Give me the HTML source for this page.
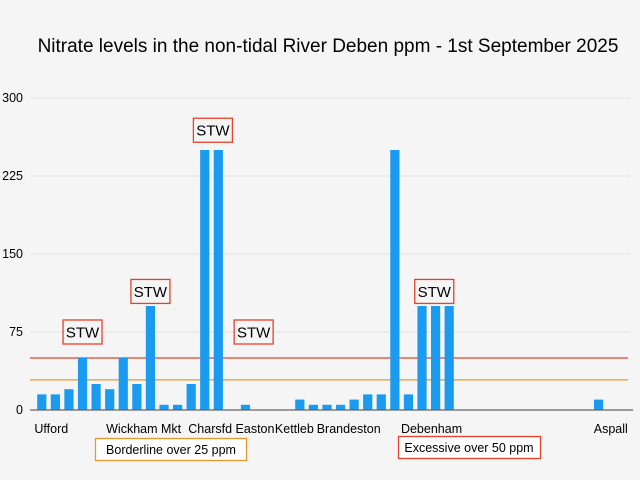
<!DOCTYPE html>
<html><head><meta charset="utf-8"><style>
body{margin:0;background:#f5f5f5;}
svg{display:block;font-family:"Liberation Sans",sans-serif;}
</style></head><body>
<svg id="chart" width="640" height="480" viewBox="0 0 640 480">
<rect width="640" height="480" fill="#f5f5f5"/>
<text x="328" y="52" text-anchor="middle" font-size="19" fill="#000">Nitrate levels in the non-tidal River Deben ppm - 1st September 2025</text>
<g id="grid"></g><g id="thr"></g><g id="bars"></g><g id="ann"></g>
</svg>
<script>
const values=[15,15,20,50,25,20,50,25,100,5,5,25,250,250,0,5,0,0,0,10,5,5,5,10,15,15,250,15,100,100,100,0,0,0,0,0,0,0,0,0,0,10];
const yTicks=[0,75,150,225,300];
const siteLabels=["Ufford","Wickham Mkt","Charsfd","Easton","Kettleb","Brandeston","Debenham","Aspall"];
const siteIndex=[0.7,7.5,12.4,15.7,18.6,22.6,28.7,41.9];
const thresholds=[50,29];
const stwIndex=[3,8,12.6,15.6,28.9];
const stwValue=[75,114,269,75,114];
const NS="http://www.w3.org/2000/svg";
const x0=35,step=13.58,y0=410,k=1.04;
const xs=i=>x0+step*i+step/2;
const ys=v=>y0-v*k;
function mk(tag,attrs,parent,txt){const e=document.createElementNS(NS,tag);for(const a in attrs)e.setAttribute(a,attrs[a]);if(txt!==undefined)e.textContent=txt;document.getElementById(parent).appendChild(e);return e;}
yTicks.forEach(t=>{
 if(t>0){const g=mk('line',{x1:30,x2:630,y1:ys(t),y2:ys(t),stroke:'#e2e2e2','stroke-width':1},'grid');
 
 }
 const l=mk('text',{x:23,y:ys(t)+4,'text-anchor':'end','font-size':12.5,fill:'#000'},'grid',t);
 
 
});
const tcol=['#e8402a','#e8962e'];
thresholds.forEach((t,i)=>{
 const l=mk('line',{x1:30,x2:628,y1:ys(t),y2:ys(t),stroke:tcol[i],'stroke-width':1.3},'thr');
 
 
});
values.forEach((v,i)=>{
 if(v<=0)return;
 const b=mk('rect',{x:xs(i)-4.6,y:ys(v),width:9.2,height:v*k,fill:'#1a9bf0'},'bars');
 
 
});
const ax=mk('line',{x1:30,x2:633,y1:y0,y2:y0,stroke:'#666','stroke-width':1.2},'bars');


siteLabels.forEach((s,i)=>{
 const t=mk('text',{x:xs(siteIndex[i]),y:433,'text-anchor':'middle','font-size':12.5,fill:'#000'},'ann',s);
 
 
});
stwIndex.forEach((si,i)=>{
 const cx=xs(si),cy=ys(stwValue[i]);
 const r=mk('rect',{x:cx-19.5,y:cy-12,width:39,height:24,fill:'#f5f5f5',stroke:'#e8402a','stroke-width':1.3},'ann');
 
 
 const t=mk('text',{x:cx,y:cy+5.5,'text-anchor':'middle','font-size':15,fill:'#000'},'ann','STW');
 
 
});
</script>
<svg width="640" height="480" style="position:absolute;left:0;top:0">
<g>
<rect x="95.5" y="438.5" width="151" height="22" fill="#fff" stroke="#e8962e" stroke-width="1.3"/>
<text x="171" y="454" text-anchor="middle" font-size="12.5" font-family="Liberation Sans, sans-serif">Borderline over 25 ppm</text></g>
<g>
<rect x="398.5" y="436.5" width="142" height="22" fill="#fff" stroke="#e8402a" stroke-width="1.3"/>
<text x="469" y="452" text-anchor="middle" font-size="12.5" font-family="Liberation Sans, sans-serif">Excessive over 50 ppm</text></g>
</svg>
</body></html>
